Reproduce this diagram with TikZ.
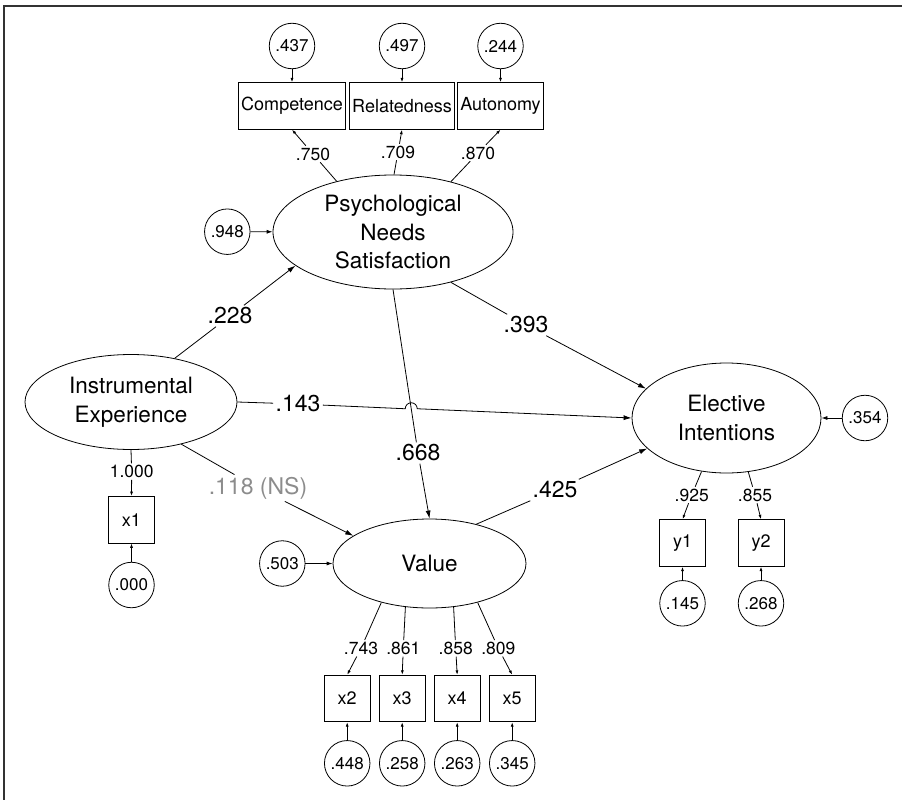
\documentclass[tikz,border=0pt]{standalone}
\usepackage{fontspec}
\setmainfont{TeX Gyre Heros}
\usetikzlibrary{shapes.geometric, arrows.meta, intersections, calc}

\begin{document}
\begin{tikzpicture}[x = 1pt, y = 1pt, line width = 0.8pt,
	lat/.style = {draw, ellipse, inner sep = 0pt, align = center, font = \fontsize{22.5}{28.5}\selectfont},
	err/.style = {draw, circle, minimum size = 45.5pt, inner sep = 0pt, font = \fontsize{17}{20}\selectfont},
	obs/.style = {draw, rectangle, minimum height = 46.5pt, minimum width = 46pt, inner xsep = 2.5pt, font = \fontsize{18}{20}\selectfont},
	coef/.style = {inner sep = 2pt, font = \fontsize{23}{25}\selectfont},
	load/.style = {inner sep = 1.5pt, font = \fontsize{17.5}{20}\selectfont},
	arr/.style = {-{Latex[length = 8pt, width = 5pt]}},
	marr/.style = {-{Latex[length = 6pt, width = 4pt]}},
	sarr/.style = {-{Latex[length = 4.5pt, width = 3pt]}}]

	\useasboundingbox (0, 0) rectangle (902, -800);
	\draw[line width = 1.7pt, black!80] (4, -800) -- (4, -6) -- (902, -6); % moldura

	% variaveis latentes
	\node[lat, minimum width = 240pt, minimum height = 114pt] (pns) at (393, -232) {Psychological\\Needs\\Satisfaction};
	\node[lat, minimum width = 212pt, minimum height = 95pt] (ie) at (131, -402) {Instrumental\\Experience};
	\node[lat, minimum width = 193pt, minimum height = 89pt] (val) at (429.5, -563.5) {Value};
	\node[lat, minimum width = 189pt, minimum height = 110pt] (ei) at (726.5, -418) {Elective\\Intentions};

	% indicadores
	\node[obs] (comp) at (292, -106) {Competence};
	\node[obs] (rel)  at (402, -106) {Relatedness};
	\node[obs] (aut)  at (500.5, -106) {Autonomy};
	\node[obs] (x1) at (131.5, -519.7) {x1};
	\node[obs] (x2) at (347.2, -698.5) {x2};
	\node[obs] (x3) at (402.2, -698.5) {x3};
	\node[obs] (x4) at (457.2, -698.5) {x4};
	\node[obs] (x5) at (512.2, -698.5) {x5};
	\node[obs] (y1) at (682.5, -543) {y1};
	\node[obs] (y2) at (761, -543) {y2};

	% erros
	\node[err] (e1) at (292, -46) {.437};
	\node[err] (e2) at (402, -46) {.497};
	\node[err] (e3) at (500.5, -46) {.244};
	\node[err] (d1) at (227.3, -231.7) {.948};
	\node[err] (ex1) at (131.5, -585) {.000};
	\node[err] (d2) at (282.3, -563.5) {.503};
	\node[err] (ex2) at (347.2, -763.3) {.448};
	\node[err] (ex3) at (402.2, -763.3) {.258};
	\node[err] (ex4) at (457.2, -763.3) {.263};
	\node[err] (ex5) at (512.2, -763.3) {.345};
	\node[err] (d3) at (865, -418) {.354};
	\node[err] (ey1) at (682.5, -603.3) {.145};
	\node[err] (ey2) at (761, -603.3) {.268};

	% coeficientes
	\node[coef] (c228) at (230, -316) {.228};
	\node[coef] (c393) at (526, -325) {.393};
	\node[coef] (c143) at (298, -404) {.143};
	\node[coef] (c668) at (418, -453) {.668};
	\node[coef] (c425) at (555, -490) {.425};
	\node[coef, black!45] (c118) at (258, -488) {.118 (NS)};

	\node[load] (l750) at (313, -154) {.750};
	\node[load] (l709) at (398, -152) {.709};
	\node[load] (l870) at (478, -153) {.870};
	\node[load] (l1000) at (131.7, -471.7) {1.000};
	\node[load] (l743) at (361, -648.3) {.743};
	\node[load] (l861) at (403.3, -648.3) {.861};
	\node[load] (l858) at (455.7, -648.3) {.858};
	\node[load] (l809) at (498.3, -648.3) {.809};
	\node[load] (l925) at (691.7, -495) {.925};
	\node[load] (l855) at (755, -495) {.855};

	% caminhos estruturais
	\draw (ie.45) -- (c228);
	\draw[arr] (c228) -- (pns.199);
	\draw (pns.-41) -- (c393);
	\draw[arr] (c393) -- (ei.160);
	\draw (pns.south) -- (c668);
	\draw[arr] (c668) -- (val.north);
	\draw (ie.-40) -- (c118);
	\draw[arr] (c118) -- (val.160);
	\draw (val.40) -- (c425);
	\draw[arr] (c425) -- (ei.201);
	\draw (ie.east) -- (c143);
	\path[name path = p668] (pns.south) -- (c668);
	\path[name path = p143] (c143) -- (ei.west);
	\path[name intersections = {of = p668 and p143, by = cross}];
	\draw[arr] (c143) -- ($(cross) + (-6, 0)$) arc[start angle = 180, end angle = 0, radius = 6pt] -- (ei.west); % salto

	% cargas
	\draw (pns.138.7) -- (l750);
	\draw[sarr] (l750) -- (comp.south);
	\draw (pns.89) -- (l709);
	\draw[sarr] (l709) -- (rel.south);
	\draw (pns.41.3) -- (l870);
	\draw[sarr] (l870) -- (aut.south);
	\draw (ie.south) -- (l1000);
	\draw[sarr] (l1000) -- (x1.north);
	\draw (val.219.6) -- (l743);
	\draw[sarr] (l743) -- (x2.north);
	\draw (val.241.2) -- (l861);
	\draw[sarr] (l861) -- (x3.north);
	\draw (val.299.8) -- (l858);
	\draw[sarr] (l858) -- (x4.north);
	\draw (val.321) -- (l809);
	\draw[sarr] (l809) -- (x5.north);
	\draw (ei.245.6) -- (l925);
	\draw[sarr] (l925) -- (y1.north);
	\draw (ei.292.6) -- (l855);
	\draw[sarr] (l855) -- (y2.north);

	% erros para indicadores
	\draw[sarr] (e1) -- (comp);
	\draw[sarr] (e2) -- (rel);
	\draw[sarr] (e3) -- (aut);
	\draw[sarr] (ex1) -- (x1);
	\draw[sarr] (ex2) -- (x2);
	\draw[sarr] (ex3) -- (x3);
	\draw[sarr] (ex4) -- (x4);
	\draw[sarr] (ex5) -- (x5);
	\draw[sarr] (ey1) -- (y1);
	\draw[sarr] (ey2) -- (y2);
	\draw[marr] (d1) -- (pns);
	\draw[marr] (d2) -- (val);
	\draw[marr] (d3) -- (ei);

\end{tikzpicture}
\end{document}
